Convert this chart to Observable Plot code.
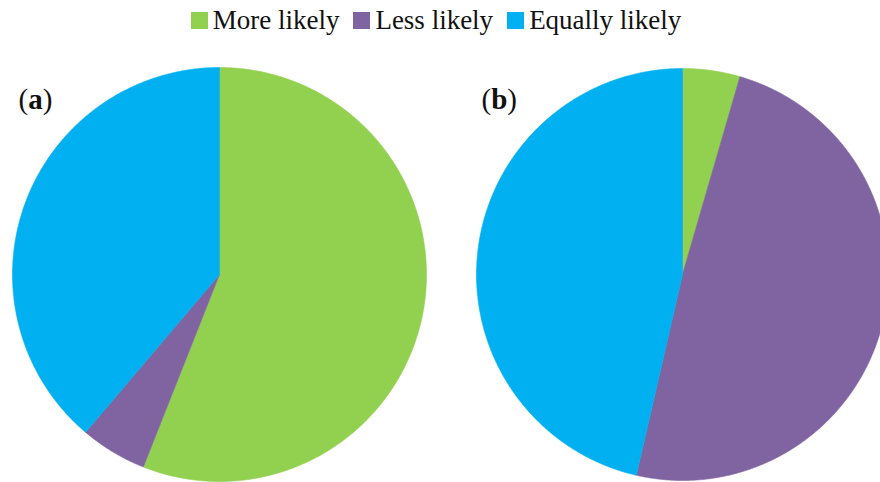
<!DOCTYPE html>
<html>
<head>
<meta charset="utf-8">
<script src="https://cdn.jsdelivr.net/npm/d3@7"></script>
<script src="https://cdn.jsdelivr.net/npm/@observablehq/plot@0.6"></script>
<style>
  html, body { margin: 0; padding: 0; background: #fff; }
  #wrap { width: 880px; height: 482px; overflow: hidden; position: relative; }
  #legend { height: 40px; display: flex; justify-content: center; align-items: center;
            font-family: "Liberation Serif", "Times New Roman", serif; font-size: 27px; color: #111; padding-right: 8px; box-sizing: border-box; }
  .item { display: flex; align-items: center; margin: 0 7px; }
  .sw { width: 17px; height: 17px; margin-right: 5px; margin-top: 1px; }
</style>
</head>
<body>
<div id="wrap">
  <div id="legend"></div>
  <div id="chart"></div>
</div>
<script>
const categories = ["More likely", "Less likely", "Equally likely"];
const colors = ["#92D050", "#8064A2", "#00B0F0"];
const panelLabels = ["a", "b"];
const valuesA = [56.0, 5.2, 38.8];
const valuesB = [4.5, 49.1, 46.4];

// layout constants
const W = 880, H = 442;
const centers = [{cx: 219, cy: 234, r: 207}, {cx: 682, cy: 234, r: 206}];

// legend
const legend = d3.select("#legend");
categories.forEach((c, i) => {
  const it = legend.append("div").attr("class", "item");
  it.append("div").attr("class", "sw").style("background", colors[i]);
  it.append("span").text(c);
});

// build slice polygons from d3.pie angles
const pie = d3.pie().sort(null);
const pts = [];
[valuesA, valuesB].forEach((vals, p) => {
  const {cx, cy, r} = centers[p];
  pie(vals).forEach((s, i) => {
    const key = panelLabels[p] + i;
    pts.push({key, category: categories[i], x: cx, y: cy});
    const n = Math.max(2, Math.ceil((s.endAngle - s.startAngle) / 0.005));
    for (let k = 0; k <= n; k++) {
      const a = s.startAngle + (s.endAngle - s.startAngle) * k / n;
      pts.push({key, category: categories[i], x: cx + r * Math.sin(a), y: cy - r * Math.cos(a)});
    }
    pts.push({key, category: categories[i], x: cx, y: cy});
  });
});

const labels = panelLabels.map((l, p) => ({label: `(${l})`, x: centers[p].cx - 201, y: centers[p].cy - 166}));

const chart = Plot.plot({
  width: W, height: H,
  margin: 0,
  x: {domain: [0, W], range: [0, W], axis: null},
  y: {domain: [0, H], range: [0, H], axis: null},
  color: {domain: categories, range: colors},
  marks: [
    Plot.line(pts, {x: "x", y: "y", z: "key", fill: "category", stroke: "category", strokeWidth: 0.6, curve: "linear"}),
    Plot.text(labels, {x: "x", y: "y", text: "label", textAnchor: "start", lineAnchor: "bottom",
      fontSize: 29, fontFamily: "Liberation Serif", fill: "#111"})
  ]
});
d3.select(chart).selectAll("text").each(function() {
  const t = this.textContent;
  const m = t.match(/^\((.)\)$/);
  if (m) {
    this.textContent = "";
    const el = d3.select(this);
    el.append("tspan").text("(");
    el.append("tspan").attr("font-weight", "bold").text(m[1]);
    el.append("tspan").text(")");
  }
});
document.getElementById("chart").appendChild(chart);
</script>
</body>
</html>
